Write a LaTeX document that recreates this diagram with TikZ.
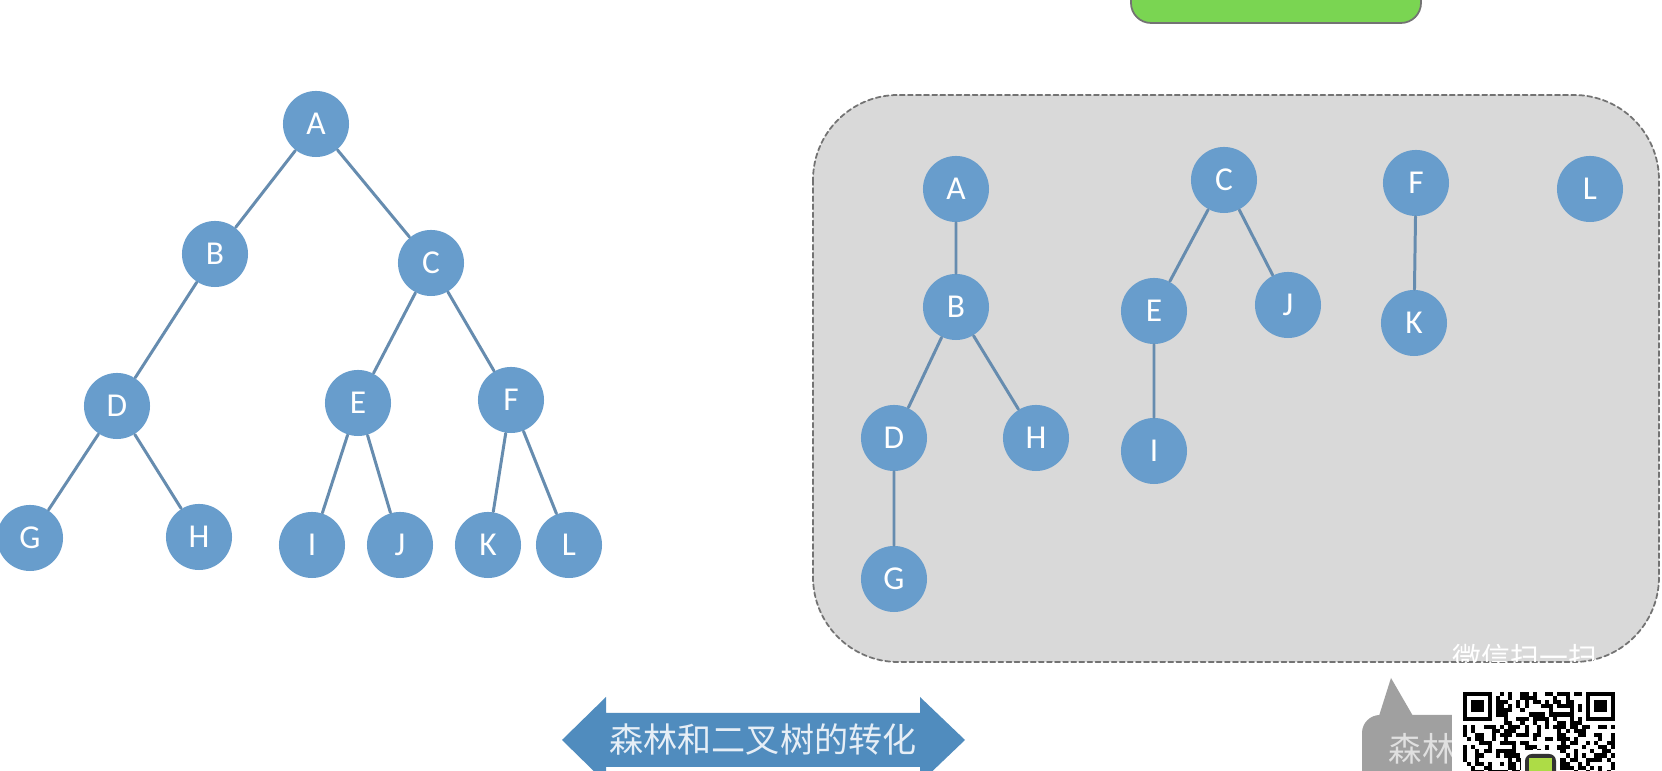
\documentclass[tikz,border=0pt]{standalone}
\usepackage{fontspec}
\setmainfont{Carlito}
\newfontfamily\cjk{Noto Sans CJK SC}
\definecolor{treeblue}{RGB}{104,157,204}
\definecolor{linkblue}{RGB}{102,140,175}
\definecolor{panelgray}{RGB}{217,217,217}
\definecolor{arrowblue}{RGB}{80,140,190}
\definecolor{tabgreen}{RGB}{122,213,82}
\definecolor{tipgray}{RGB}{160,160,160}
\definecolor{pale}{RGB}{230,238,246}
\tikzset{
  vtx/.style={circle, fill=treeblue, minimum size=0.66cm, inner sep=0pt, text=white, font=\fontsize{9.5}{11}\selectfont},
  link/.style={linkblue, line width=0.85pt}
}
\begin{document}
\begin{tikzpicture}[x=0.01cm, y=-0.01cm, line join=round, line cap=round]
	\useasboundingbox (0,0) rectangle (1662,771);
	\fill[white] (0,0) rectangle (1662,771);
	\draw[fill=tabgreen, draw=black!55, line width=0.5pt, rounded corners=0.2cm] (1131,-40) rectangle (1421,23);
	% forest panel
	\draw[fill=panelgray, draw=black!55, line width=0.5pt, dash pattern=on 1.4pt off 0.9pt, rounded corners=0.85cm] (813,95) rectangle (1659,662);
	\begin{scope}
		\clip[rounded corners=0.85cm] (813,95) rectangle (1659,662);
		\node[text=white, anchor=west, inner sep=0pt, font=\cjk\fontsize{8.2}{9}\selectfont] (wm) at (1452,658) {微信扫一扫};
	\end{scope}
	% left tree
	\node[vtx] (lA) at (316,124) {A};
	\node[vtx] (lB) at (215,254) {B};
	\node[vtx] (lC) at (431,263) {C};
	\node[vtx] (lD) at (117,406) {D};
	\node[vtx] (lE) at (358,403) {E};
	\node[vtx] (lF) at (511,400) {F};
	\node[vtx] (lG) at (30,538) {G};
	\node[vtx] (lH) at (199,537) {H};
	\node[vtx] (lI) at (312,545) {I};
	\node[vtx] (lJ) at (400,545) {J};
	\node[vtx] (lK) at (488,545) {K};
	\node[vtx] (lL) at (569,545) {L};
	\draw[link] (lA)--(lB) (lA)--(lC) (lB)--(lD) (lC)--(lE) (lC)--(lF)
		(lD)--(lG) (lD)--(lH) (lE)--(lI) (lE)--(lJ) (lF)--(lK) (lF)--(lL);
	% right forest
	\node[vtx] (rA) at (956,189) {A};
	\node[vtx] (rB) at (956,307) {B};
	\node[vtx] (rD) at (894,438) {D};
	\node[vtx] (rH) at (1036,438) {H};
	\node[vtx] (rG) at (894,579) {G};
	\node[vtx] (rC) at (1224,180) {C};
	\node[vtx] (rE) at (1154,311) {E};
	\node[vtx] (rJ) at (1288,305) {J};
	\node[vtx] (rI) at (1154,451) {I};
	\node[vtx] (rF) at (1416,183) {F};
	\node[vtx] (rK) at (1414,323) {K};
	\node[vtx] (rL) at (1590,189) {L};
	\draw[link] (rA)--(rB) (rB)--(rD) (rB)--(rH) (rD)--(rG)
		(rC)--(rE) (rC)--(rJ) (rE)--(rI) (rF)--(rK);
	% title arrow
	\fill[arrowblue] (562,740)--(606,697)--(606,713)--(920,713)--(920,697)--(965,740)
		--(920,783)--(920,767)--(606,767)--(606,783)--cycle;
	\node[text=pale, inner sep=0pt, font=\cjk\fontsize{9.7}{11}\selectfont] (conv) at (763,740) {森林和二叉树的转化};
	% bubble and code
	\fill[tipgray, rounded corners=0.18cm] (1362,715) rectangle (1480,800);
	\fill[tipgray] (1379,716)--(1391,678)--(1413,716)--cycle;
	\node[text=black!12, anchor=west, inner sep=0pt, font=\cjk\fontsize{9.5}{11}\selectfont] (tip) at (1388,749) {森林};
	\fill[white] (1452,684) rectangle (1625,780);
	\pgfmathsetseed{42}
	\foreach \i in {0,...,36} \foreach \j in {0,...,19} {
		\pgfmathtruncatemacro\bit{2*rnd}
		\ifnum\bit=1 \fill (1463+\i*4.1,692+\j*4.1) rectangle ++(4.1,4.1); \fi
	}
	\foreach \fx in {1463,1586.0} {
		\fill[white] (\fx-4.1,688) rectangle ++(36.9,36.9);
		\fill (\fx,692) rectangle ++(28.7,28.7);
		\fill[white] (\fx+4.1,696.1) rectangle ++(20.5,20.5);
		\fill (\fx+8.2,700.2) rectangle ++(12.3,12.3);
	}
	\fill[white] (1521,750) rectangle (1560,780);
	\fill[black!80, rounded corners=2pt] (1525,754) rectangle (1556,785);
	\fill[yellow!60!green!80] (1529,758) rectangle (1552,785);
\end{tikzpicture}
\end{document}
